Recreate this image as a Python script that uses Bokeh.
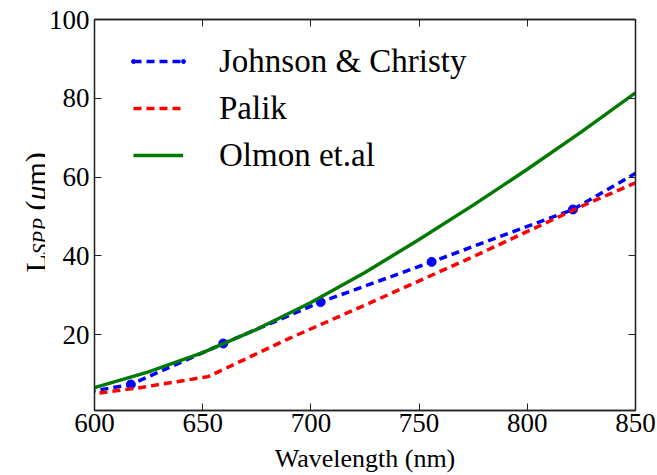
import math
from bokeh.plotting import figure
from bokeh.models import (Range1d, LinearAxis, Legend, LegendItem, FixedTicker,
                          ColumnDataSource)
from bokeh.core.properties import value
from bokeh.layouts import row
from bokeh.embed import file_html
from bokeh.resources import INLINE

# ---- data ----
jc_wl = [579.1, 616.8, 659.5, 704.5, 755.8, 821.1, 891.9]
jc_L = [3.8, 7.4, 17.8, 28.3, 38.5, 51.8, 74.3]

palik_wl = [590.4, 619.9, 652.5, 688.8, 729.3, 774.9, 826.6, 885.6]
palik_L = [4.4, 6.5, 9.4, 18.8, 28.6, 39.8, 53.0, 67.0]

olmon_wl = [600, 625, 650, 675, 700, 725, 750, 775, 800, 825, 850]
olmon_L = [6.6, 10.6, 15.5, 21.4, 28.2, 35.8, 44.2, 52.9, 62.0, 71.5, 81.4]

x_ticks = [600, 650, 700, 750, 800, 850]
y_ticks = [20, 40, 60, 80, 100]

series_labels = ["Johnson & Christy", "Palik", "Olmon et.al"]
x_title = "Wavelength (nm)"
y_title_parts = ["L", "SPP", "(", "\u03bc", "m)"]

FONT = "Liberation Serif"
H = 475
TOP, BOTTOM = 19, 65

# ---- main plot ----
p = figure(width=612, height=H, output_backend="svg", toolbar_location=None,
           x_range=Range1d(600, 850), y_range=Range1d(0.8, 100),
           min_border_left=48, min_border_right=22, min_border_top=TOP,
           min_border_bottom=BOTTOM)
p.grid.visible = False
p.background_fill_color = "white"
p.border_fill_color = "white"
p.outline_line_color = "#222222"
p.outline_line_width = 1.3

p.add_layout(LinearAxis(), "above")
p.add_layout(LinearAxis(), "right")

for ax in p.xaxis:
    ax.ticker = FixedTicker(ticks=x_ticks)
for ax in p.yaxis:
    ax.ticker = FixedTicker(ticks=y_ticks)

for ax in p.axis:
    ax.major_tick_in = 7
    ax.major_tick_out = 0
    ax.minor_tick_in = 0
    ax.minor_tick_out = 0
    ax.major_tick_line_color = "#222222"
    ax.axis_line_color = "#222222"
    ax.axis_line_width = 1.3
    ax.major_label_text_font = FONT
    ax.major_label_text_font_size = "27px"
    ax.major_label_text_color = "black"

xa = p.below[0]
xa.major_label_standoff = 3
xa.axis_label = x_title
xa.axis_label_text_font = FONT
xa.axis_label_text_font_size = "26px"
xa.axis_label_text_font_style = "normal"
xa.axis_label_text_color = "black"
xa.axis_label_standoff = 9
p.yaxis[0].major_label_standoff = 5
for ax in list(p.above) + list(p.right):
    ax.major_label_text_font_size = "0px"
    ax.major_label_standoff = 0

# ---- series ----
r_jc = p.line(jc_wl, jc_L, line_color="blue", line_width=3.5, line_dash="8 5")
r_jc_pts = p.scatter(jc_wl, jc_L, size=9, color="blue")
r_pa = p.line(palik_wl, palik_L, line_color="red", line_width=3.5, line_dash="8 5")
r_ol = p.line(olmon_wl, olmon_L, line_color="#007a00", line_width=3.5,
              line_join="round")

# ---- legend ----
common = dict(padding=0, margin=0, border_line_alpha=0, background_fill_alpha=0,
              glyph_height=40, label_height=40)
leg = Legend(items=[LegendItem(label=series_labels[0], renderers=[r_jc]),
                    LegendItem(label=series_labels[1], renderers=[r_pa]),
                    LegendItem(label=series_labels[2], renderers=[r_ol])],
             location=(39, 235), glyph_width=50, spacing=7, label_standoff=36,
             label_text_font=FONT, label_text_font_size="33px",
             label_text_color="black", **common)
p.add_layout(leg)
for lx in (34, 84):
    p.add_layout(Legend(items=[LegendItem(label=" ", renderers=[r_jc_pts])],
                        location=(lx, 329), glyph_width=10, label_standoff=0,
                        label_text_font_size="1px", **common))

# ---- y-axis title strip (left); frame aligned with main frame ----
ylab = figure(width=45, height=H, output_backend="svg", toolbar_location=None,
              title=None, x_range=Range1d(0, 45),
              y_range=Range1d(H - BOTTOM, TOP),
              min_border_left=0, min_border_right=0, min_border_top=TOP,
              min_border_bottom=BOTTOM,
              x_axis_location=None, y_axis_location=None)
ylab.grid.visible = False
ylab.outline_line_color = None
ylab.background_fill_color = "white"
ylab.border_fill_color = "white"

ysrc = ColumnDataSource(dict(
    text=y_title_parts,
    x=[35, 39, 35, 35, 35],
    y=[272, 253.7, 210, 200, 185],
    size=["30px", "21px", "30px", "30px", "30px"],
    style=["normal", "italic", "normal", "italic", "normal"],
))
ylab.text(x="x", y="y", text="text", source=ysrc, angle=math.pi / 2,
          text_align="left", text_baseline="alphabetic",
          text_font=value(FONT), text_font_size="size",
          text_font_style="style", text_color="black")

layout = row(ylab, p)
open("out.html", "w").write(file_html(layout, INLINE))
